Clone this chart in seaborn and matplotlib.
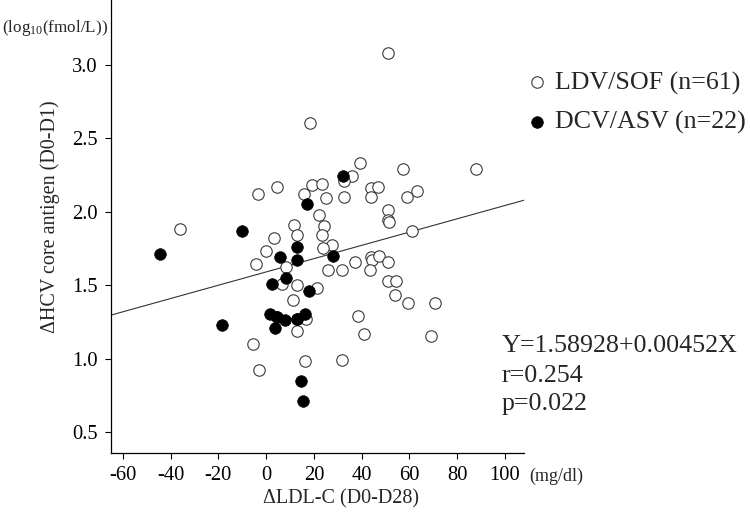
import numpy as np
import pandas as pd
import matplotlib
matplotlib.use("Agg")
import matplotlib.pyplot as plt
import seaborn as sns

# ---- data ----
ldv_x = [18.4, 39.3, 35.8, 32.6, 4.5, -3.5, 19.1, 23.4, 15.9, 25.0,
         32.6, 22.0, 11.7, 24.1, 12.8, 23.3, 3.2, 27.6, 24.0, 0.0,
         -36.0, -4.1, 8.4, 6.6, 12.8, 21.2, 11.2, 16.6, 13.1, -5.4,
         -3.1, 16.3, 31.8, 26.1, 31.9, 37.3, 38.6, 41.0, 57.5, 87.9,
         43.8, 47.0, 43.8, 63.2, 59.0, 50.9, 50.9, 51.5, 61.2, 43.8,
         44.2, 47.3, 51.2, 43.5, 51.2, 54.3, 54.0, 59.3, 70.7, 69.0,
         51.0]
ldv_y = [2.60, 2.33, 2.24, 2.21, 2.17, 2.12, 2.18, 2.19, 2.12, 2.09,
         2.10, 1.98, 1.91, 1.90, 1.84, 1.84, 1.82, 1.77, 1.75, 1.73,
         1.88, 1.64, 1.62, 1.51, 1.50, 1.48, 1.40, 1.27, 1.19, 1.10,
         0.92, 0.98, 0.99, 1.60, 1.60, 1.66, 1.29, 1.17, 2.29, 2.29,
         2.16, 2.17, 2.10, 2.14, 2.10, 2.01, 1.94, 1.93, 1.87, 1.69,
         1.67, 1.70, 1.66, 1.60, 1.53, 1.53, 1.43, 1.38, 1.38, 1.15,
         3.08]
dcv_x = [32.2, 17.2, -10.0, -44.4, 13.0, 5.9, 28.2, 12.8, 8.5, 2.4,
         18.1, 1.7, 4.5, 7.7, 3.6, 13.1, 16.3, -18.4, 14.4, 15.5,
         4.5, 13.1]
dcv_y = [2.24, 2.05, 1.87, 1.71, 1.76, 1.69, 1.70, 1.67, 1.55, 1.51,
         1.46, 1.30, 1.28, 1.26, 1.21, 1.27, 1.30, 1.23, 0.85, 0.71,
         1.28, 1.27]
x_ticks = [-60, -40, -20, 0, 20, 40, 60, 80, 100]
y_ticks = [0.5, 1.0, 1.5, 2.0, 2.5, 3.0]
intercept = 1.58928
slope = 0.00452
r_value = 0.254
p_value = 0.022
label_ldv = "LDV/SOF (n=61)"
label_dcv = "DCV/ASV (n=22)"

# ---- style ----
sns.set_style("ticks")
plt.rcParams["font.family"] = ["Liberation Serif", "DejaVu Serif"]
plt.rcParams["mathtext.fontset"] = "custom"
plt.rcParams["mathtext.rm"] = "Liberation Serif"
plt.rcParams["mathtext.it"] = "Liberation Serif:italic"
plt.rcParams["mathtext.bf"] = "Liberation Serif:bold"

W, H = 750, 514
fig = plt.figure(figsize=(W / 100, H / 100), dpi=100)
ax = fig.add_axes([111 / W, (H - 453) / H, (524 - 111) / W, 453 / H])

xlim = (-65, 108)
ylim = (0.357, 3.44)
ax.set_xlim(*xlim)
ax.set_ylim(*ylim)

# regression line across the full x range
reg_x = np.array(xlim, dtype=float)
reg_y = intercept + slope * reg_x
sns.lineplot(x=reg_x, y=reg_y, ax=ax, color="#333333", linewidth=0.8, zorder=2)

df_ldv = pd.DataFrame({"x": ldv_x, "y": ldv_y})
df_dcv = pd.DataFrame({"x": dcv_x, "y": dcv_y})
sns.scatterplot(data=df_ldv, x="x", y="y", ax=ax, marker="o", s=68,
                color="white", edgecolor="#3a3a3a", linewidth=0.8,
                label=label_ldv, zorder=3)
sns.scatterplot(data=df_dcv, x="x", y="y", ax=ax, marker="o", s=70,
                color="black", edgecolor="black", linewidth=0.5,
                label=label_dcv, zorder=4)

ax.set_xlim(*xlim)
ax.set_ylim(*ylim)
ax.set_xticks(x_ticks)
ax.set_yticks(y_ticks)
ax.set_xticklabels([str(t) for t in x_ticks])
ax.set_yticklabels([f"{t:.1f}" for t in y_ticks])
sns.despine(ax=ax)
for s in ["left", "bottom"]:
    ax.spines[s].set_color("black")
    ax.spines[s].set_linewidth(0.9)
ax.tick_params(direction="out", length=4, width=0.8, pad=5.5,
               labelsize=14.8, colors="black")

ax.set_xlabel("\u0394LDL-C (D0-D28)", fontsize=14.5, va="center")
ax.xaxis.set_label_coords((341 - 111) / 413, (453 - 499) / 453)
ax.set_ylabel("\u0394HCV core antigen (D0-D1)", fontsize=14.5, va="center")
ax.yaxis.set_label_coords((50 - 111) / 413, (453 - 217) / 453)

# legend
leg = ax.legend(loc="upper left", bbox_to_anchor=(524 / W, (H - 71) / H),
                bbox_transform=fig.transFigure, frameon=False, fontsize=18.7,
                handlelength=1.0, handletextpad=0.2, borderpad=0,
                borderaxespad=0, labelspacing=0.6)

# annotations
fig.text(2 / W, (H - 32) / H, r"(log$_{\mathregular{10}}$(fmol/L))",
         fontsize=12.3, va="baseline", ha="left")
fig.text(529 / W, (H - 476) / H, "(mg/dl)", fontsize=13, va="center", ha="left")
fig.text(502 / W, (H - 352) / H, f"Y={intercept:.5f}+{slope:.5f}X",
         fontsize=18.7, va="baseline", ha="left")
fig.text(502 / W, (H - 382) / H, f"r={r_value:.3f}",
         fontsize=18.7, va="baseline", ha="left")
fig.text(502 / W, (H - 410) / H, f"p={p_value:.3f}",
         fontsize=18.7, va="baseline", ha="left")

fig.savefig("out.png", dpi=100)
